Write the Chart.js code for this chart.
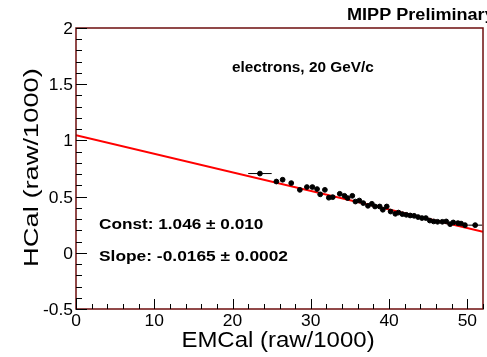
<!DOCTYPE html>
<html><head><meta charset="utf-8">
<script src="https://cdn.jsdelivr.net/npm/chart.js@4/dist/chart.umd.min.js"></script>
<style>html,body{margin:0;padding:0;background:#fff}#wrap{width:487px;height:357px}</style>
</head><body><div id="wrap"><canvas id="c" width="487" height="357"></canvas></div>
<script>
const emcal = [23.5,25.6,26.4,27.5,28.6,29.5,30.2,30.8,31.2,31.8,32.3,32.8,33.7,34.3,34.7,35.3,35.7,36.2,36.7,37.3,37.8,38.2,38.8,39.2,39.7,40.2,40.8,41.2,41.7,42.2,42.7,43.2,43.7,44.2,44.7,45.2,45.7,46.2,46.8,47.3,47.8,48.2,48.8,49.2,49.7,51.0];
const hcal = [0.705,0.634,0.65,0.62,0.56,0.585,0.585,0.567,0.52,0.56,0.49,0.495,0.525,0.507,0.487,0.507,0.456,0.465,0.442,0.418,0.436,0.412,0.412,0.383,0.412,0.367,0.347,0.358,0.344,0.338,0.332,0.329,0.318,0.309,0.309,0.287,0.279,0.276,0.276,0.279,0.255,0.27,0.264,0.26,0.246,0.246];
const xErr = [1.5,0.25,0.25,0.25,0.25,0.25,0.25,0.25,0.25,0.25,0.25,0.25,0.25,0.25,0.25,0.25,0.25,0.25,0.25,0.25,0.25,0.25,0.25,0.25,0.25,0.25,0.25,0.25,0.25,0.25,0.25,0.25,0.25,0.25,0.25,0.25,0.25,0.25,0.25,0.25,0.25,0.25,0.25,0.25,0.25,0.9];
const yErr = [0.006,0.022,0.012,0.012,0.012,0.012,0.012,0.012,0.012,0.012,0.012,0.012,0.012,0.012,0.012,0.012,0.012,0.012,0.012,0.012,0.012,0.012,0.012,0.012,0.012,0.012,0.012,0.012,0.012,0.012,0.012,0.012,0.012,0.012,0.012,0.012,0.012,0.012,0.012,0.012,0.012,0.012,0.012,0.012,0.012,0.008];
const fitX = [0, 52];
const fitY = [1.046, 0.188];
const xTicks = [0,10,20,30,40,50];
const yTicks = [-0.5,0,0.5,1,1.5,2];
const xTickLabels = ['0','10','20','30','40','50'];
const yTickLabels = ['-0.5','0','0.5','1','1.5','2'];
const xTitle = 'EMCal (raw/1000)';
const yTitle = 'HCal (raw/1000)';
const header = 'MIPP Preliminary';
const label = 'electrons, 20 GeV/c';
const constText = 'Const: 1.046 \u00b1 0.010';
const slopeText = 'Slope: -0.0165 \u00b1 0.0002';

const FONT = '"Liberation Sans", Arial, Helvetica, sans-serif';

function stretchText(ctx, text, x, y, sx) {
  ctx.save();
  ctx.translate(x, y);
  ctx.scale(sx, 1);
  ctx.fillText(text, 0, 0);
  ctx.restore();
}

const decor = {
  id: 'decor',
  beforeDatasetsDraw(chart) {
    const {ctx, chartArea: a, scales: {x, y}} = chart;
    ctx.save();
    ctx.strokeStyle = '#000'; ctx.lineWidth = 1;
    for (let i = 0; i < emcal.length; i++) {
      const px = x.getPixelForValue(emcal[i]), py = y.getPixelForValue(hcal[i]);
      ctx.beginPath();
      ctx.moveTo(Math.max(a.left, x.getPixelForValue(emcal[i]-xErr[i])), py);
      ctx.lineTo(Math.min(a.right, x.getPixelForValue(emcal[i]+xErr[i])), py);
      ctx.moveTo(px, y.getPixelForValue(hcal[i]-yErr[i]));
      ctx.lineTo(px, y.getPixelForValue(hcal[i]+yErr[i]));
      ctx.stroke();
    }
    ctx.restore();
  },
  afterDraw(chart) {
    const {ctx, chartArea: a, scales: {x, y}} = chart;
    const SX = 1.09;
    ctx.save();
    ctx.strokeStyle = '#6e0e0e'; ctx.lineWidth = 1.5;
    ctx.strokeRect(a.left, a.top, a.right - a.left, a.bottom - a.top);
    ctx.strokeStyle = '#000'; ctx.lineWidth = 1;
    ctx.beginPath();
    for (let v = 0; v <= 52.001; v += 2) {
      const px = Math.round(x.getPixelForValue(v)) + 0.5;
      const len = (Math.abs(v % 10) < 1e-6) ? 10 : 5;
      ctx.moveTo(px, a.bottom); ctx.lineTo(px, a.bottom - len);
    }
    for (let k = -5; k <= 20; k++) {
      const v = k / 10;
      const py = Math.round(y.getPixelForValue(v)) + 0.5;
      const len = (k % 5 === 0) ? 11 : 6;
      ctx.moveTo(a.left, py); ctx.lineTo(a.left + len, py);
    }
    ctx.stroke();
    ctx.fillStyle = '#000';
    ctx.font = '16px ' + FONT;
    ctx.textAlign = 'center'; ctx.textBaseline = 'alphabetic';
    xTicks.forEach((v, i) => stretchText(ctx, xTickLabels[i], x.getPixelForValue(v), a.bottom + 17, SX));
    ctx.textAlign = 'right';
    yTicks.forEach((v, i) => stretchText(ctx, yTickLabels[i], a.left - 3, y.getPixelForValue(v) + 6, SX));
    ctx.font = '22px ' + FONT;
    ctx.textAlign = 'center';
    stretchText(ctx, xTitle, 278, 347, SX);
    ctx.save();
    ctx.translate(37.5, 167.5); ctx.rotate(-Math.PI / 2);
    ctx.font = '21px ' + FONT;
    ctx.scale(1.3, 1);
    ctx.fillText(yTitle, 0, 0);
    ctx.restore();
    ctx.textAlign = 'left';
    ctx.font = 'bold 16px ' + FONT;
    stretchText(ctx, header, 347, 20, 1.13);
    ctx.font = 'bold 14.5px ' + FONT;
    stretchText(ctx, label, 232, 72, 1.06);
    ctx.font = 'bold 15.5px ' + FONT;
    stretchText(ctx, constText, 99, 229, 1.11);
    stretchText(ctx, slopeText, 99, 261, 1.12);
    ctx.restore();
  }
};

new Chart(document.getElementById('c'), {
  type: 'scatter',
  data: {
    datasets: [
      {
        type: 'line', label: 'fit',
        data: fitX.map((v, i) => ({x: v, y: fitY[i]})),
        borderColor: '#ff0000', borderWidth: 2, pointRadius: 0, fill: false, order: 1
      },
      {
        label: 'data',
        data: emcal.map((v, i) => ({x: v, y: hcal[i]})),
        backgroundColor: '#000', borderColor: '#000', pointRadius: 2.4, pointHoverRadius: 2.4, order: 0
      }
    ]
  },
  options: {
    responsive: false, animation: false, events: [],
    layout: {padding: {left: 76, right: 4, top: 28, bottom: 48}},
    plugins: {legend: {display: false}, tooltip: {enabled: false}},
    scales: {
      x: {type: 'linear', min: 0, max: 52, display: false},
      y: {type: 'linear', min: -0.5, max: 2, display: false}
    }
  },
  plugins: [decor]
});
</script></body></html>
